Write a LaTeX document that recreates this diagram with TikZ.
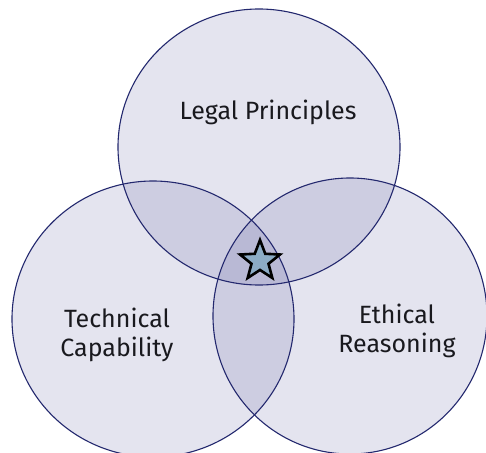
\documentclass[tikz,border=0pt]{standalone}
\usepackage{fontspec}
\setmainfont{Fira Sans}
\usetikzlibrary{shapes.geometric}
\definecolor{vfill}{RGB}{75,76,148}
\definecolor{vline}{RGB}{35,40,110}
\definecolor{starfill}{RGB}{140,172,198}
\definecolor{txt}{RGB}{25,25,30}
\tikzset{
  setfill/.style={fill=vfill, fill opacity=0.15},
  setline/.style={draw=vline, line width=1.1pt},
  lbl/.style={text=txt, font=\fontsize{25}{29}\selectfont, align=center, inner sep=0pt},
  starmark/.style={star, star points=5, star point ratio=2.35, minimum size=42pt, inner sep=0pt,
    fill=starfill, draw=black, line width=2.6pt, line join=miter}
}
\begin{document}
\begin{tikzpicture}[x=1pt,y=-1pt]
\useasboundingbox (0,0) rectangle (486,452);
\fill[white] (0,0) rectangle (486,452);
\begin{scope}
\clip (0,0) rectangle (486,452);
\coordinate (cT) at (259,147);
\coordinate (cL) at (153,319);
\coordinate (cR) at (350,316);
\fill[setfill] (cT) ellipse [x radius=141, y radius=138];
\fill[setfill] (cL) ellipse [x radius=141, y radius=138];
\fill[setfill] (cR) ellipse [x radius=137, y radius=138];
\draw[setline] (cT) ellipse [x radius=141, y radius=138];
\draw[setline] (cL) ellipse [x radius=141, y radius=138];
\draw[setline] (cR) ellipse [x radius=137, y radius=138];
\end{scope}
\node[starmark, shape border rotate=0] (st) at (260,261) {};
\node[lbl] (legal) at (268,112) {Legal Principles};
\node[lbl] (tech) at (117,335) {Technical\\Capability};
\node[lbl] (eth) at (397,331) {Ethical\\Reasoning};
\end{tikzpicture}
\end{document}
